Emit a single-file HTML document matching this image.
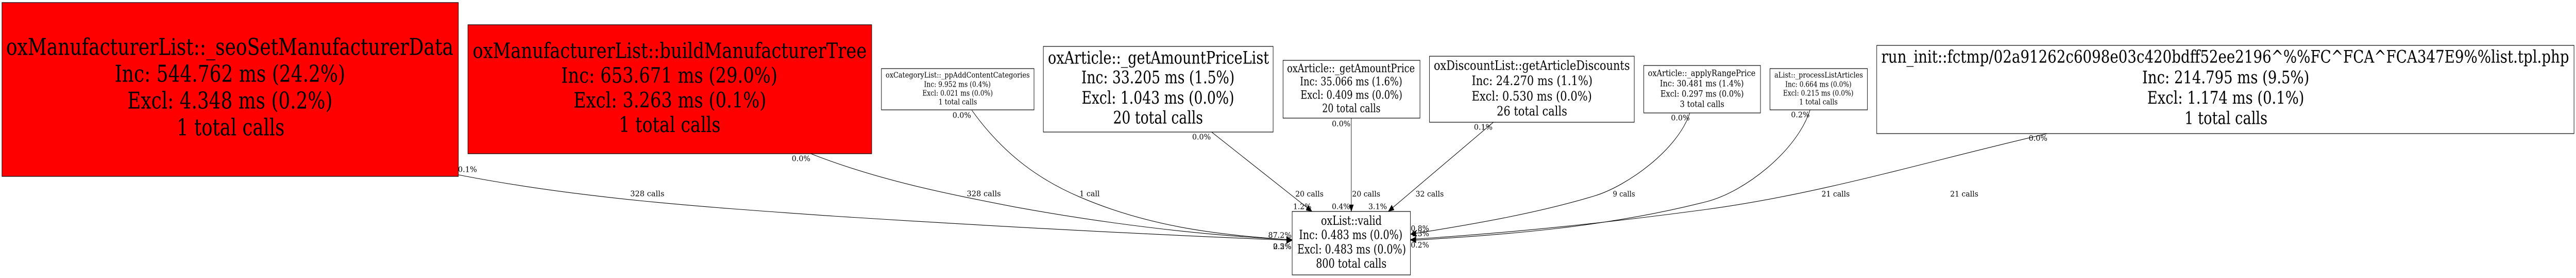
<!DOCTYPE html>
<html>
<head>
<meta charset="utf-8">
<style>
html,body{margin:0;padding:0;background:#fff;width:100%;height:100%;overflow:hidden;}
svg{display:block;width:100%;height:100%;}
text{font-family:"DejaVu Serif","Liberation Serif",serif;fill:#000;}
rect{stroke:#000;stroke-width:1.2;}
path.e{fill:none;stroke:#000;stroke-width:1.1;}
polygon{fill:#000;stroke:#000;stroke-width:.6;}
.l{font-size:15px;}
</style>
</head>
<body>
<svg viewBox="0 0 6491 539" preserveAspectRatio="none" xmlns="http://www.w3.org/2000/svg">
<rect width="6491" height="539" style="fill:#fff;stroke:none"/>

<!-- edges -->
<path class="e" d="M1155,339 C1470,386 1785,402 2100,419 C2485,438 2870,454 3256,466"/>
<path class="e" d="M2043,298 C2215,350 2388,376 2560,401.7 C2792,434 3024,456 3256,465"/>
<path class="e" d="M2449,214 C2535,306 2630,352 2720,381.7 C2899,441 3077,456 3256,465"/>
<path class="e" d="M3053,256 L3306,410"/>
<path class="e" d="M3405,229 L3405,410"/>
<path class="e" d="M3763,237 L3498,410"/>
<path class="e" d="M4258,219 C4228,290 4100,361 4017,380 C3880,412 3720,434 3554,454"/>
<path class="e" d="M4561,213 C4530,290 4400,371 4300,391 C4050,440 3800,455 3554,466"/>
<path class="e" d="M5159,259 C4870,310 4590,376 4300,406 C4050,432 3800,452 3554,464"/>

<!-- arrowheads -->
<polygon points="3256,466 3242,459 3242,472"/>
<polygon points="3256,465 3242,458.5 3242,471.5"/>
<polygon points="3306,410 3291.2,407.6 3296.8,398.2"/>
<polygon points="3405,410 3399.5,397 3410.5,397"/>
<polygon points="3498,410 3512.8,407 3506.8,397.8"/>
<polygon points="3554,454 3568,447 3568,459"/>
<polygon points="3554,465 3568,459 3568,471"/>

<!-- nodes -->
<rect x="5" y="5" width="1150" height="337" style="fill:#f00"/>
<text x="15.4" y="106.7" font-size="45" textLength="1127" lengthAdjust="spacingAndGlyphs">oxManufacturerList::_seoSetManufacturerData</text>
<text x="289" y="158.7" font-size="45" textLength="581" lengthAdjust="spacingAndGlyphs">Inc: 544.762 ms (24.2%)</text>
<text x="321" y="210.7" font-size="45" textLength="517" lengthAdjust="spacingAndGlyphs">Excl: 4.348 ms (0.2%)</text>
<text x="445.5" y="262.7" font-size="45" textLength="271.5" lengthAdjust="spacingAndGlyphs">1 total calls</text>

<rect x="1179" y="48" width="1017.5" height="250" style="fill:#f00"/>
<text x="1191" y="112.7" font-size="41" textLength="993" lengthAdjust="spacingAndGlyphs">oxManufacturerList::buildManufacturerTree</text>
<text x="1414" y="160.7" font-size="41" textLength="545" lengthAdjust="spacingAndGlyphs">Inc: 653.671 ms (29.0%)</text>
<text x="1445" y="208.7" font-size="41" textLength="486" lengthAdjust="spacingAndGlyphs">Excl: 3.263 ms (0.1%)</text>
<text x="1559.5" y="256" font-size="41" textLength="256" lengthAdjust="spacingAndGlyphs">1 total calls</text>

<rect x="2221" y="133" width="384.5" height="80" style="fill:#fff"/>
<text x="2231.6" y="150.7" font-size="14.9" textLength="363" lengthAdjust="spacingAndGlyphs">oxCategoryList::_ppAddContentCategories</text>
<text x="2328.4" y="168.3" font-size="14.9" textLength="168" lengthAdjust="spacingAndGlyphs">Inc: 9.952 ms (0.4%)</text>
<text x="2324.2" y="185.3" font-size="14.9" textLength="177.5" lengthAdjust="spacingAndGlyphs">Excl: 0.021 ms (0.0%)</text>
<text x="2364.9" y="202.7" font-size="14.9" textLength="97" lengthAdjust="spacingAndGlyphs">1 total calls</text>

<rect x="2629" y="90" width="579" height="166" style="fill:#fff"/>
<text x="2640.6" y="123.3" font-size="33.2" textLength="557" lengthAdjust="spacingAndGlyphs">oxArticle::_getAmountPriceList</text>
<text x="2724.8" y="161.7" font-size="33.2" textLength="386" lengthAdjust="spacingAndGlyphs">Inc: 33.205 ms (1.5%)</text>
<text x="2725.5" y="201" font-size="33.2" textLength="384.5" lengthAdjust="spacingAndGlyphs">Excl: 1.043 ms (0.0%)</text>
<text x="2804.7" y="239.3" font-size="33.2" textLength="226.6" lengthAdjust="spacingAndGlyphs">20 total calls</text>

<rect x="3233" y="117" width="345" height="112" style="fill:#fff"/>
<text x="3243" y="140" font-size="22" textLength="322" lengthAdjust="spacingAndGlyphs">oxArticle::_getAmountPrice</text>
<text x="3275.5" y="165.7" font-size="22" textLength="258" lengthAdjust="spacingAndGlyphs">Inc: 35.066 ms (1.6%)</text>
<text x="3277" y="191.7" font-size="22" textLength="256.6" lengthAdjust="spacingAndGlyphs">Excl: 0.409 ms (0.0%)</text>
<text x="3331.6" y="217.3" font-size="22" textLength="147" lengthAdjust="spacingAndGlyphs">20 total calls</text>

<rect x="3602" y="109" width="516" height="128" style="fill:#fff"/>
<text x="3612.9" y="135.3" font-size="25.5" textLength="494" lengthAdjust="spacingAndGlyphs">oxDiscountList::getArticleDiscounts</text>
<text x="3708.3" y="165" font-size="25.5" textLength="304.5" lengthAdjust="spacingAndGlyphs">Inc: 24.270 ms (1.1%)</text>
<text x="3708.3" y="195" font-size="25.5" textLength="303" lengthAdjust="spacingAndGlyphs">Excl: 0.530 ms (0.0%)</text>
<text x="3771.4" y="224" font-size="25.5" textLength="177.5" lengthAdjust="spacingAndGlyphs">26 total calls</text>

<rect x="4142" y="127" width="294" height="92" style="fill:#fff"/>
<text x="4152.4" y="147.7" font-size="17.2" textLength="271" lengthAdjust="spacingAndGlyphs">oxArticle::_applyRangePrice</text>
<text x="4182.5" y="167.7" font-size="17.2" textLength="211.5" lengthAdjust="spacingAndGlyphs">Inc: 30.481 ms (1.4%)</text>
<text x="4184" y="187.7" font-size="17.2" textLength="210" lengthAdjust="spacingAndGlyphs">Excl: 0.297 ms (0.0%)</text>
<text x="4233" y="207.7" font-size="17.2" textLength="112" lengthAdjust="spacingAndGlyphs">3 total calls</text>

<rect x="4460" y="133" width="245.5" height="80" style="fill:#fff"/>
<text x="4471.2" y="150.7" font-size="14.9" textLength="223" lengthAdjust="spacingAndGlyphs">aList::_processListArticles</text>
<text x="4498.5" y="168.3" font-size="14.9" textLength="167" lengthAdjust="spacingAndGlyphs">Inc: 0.664 ms (0.0%)</text>
<text x="4492.9" y="185.3" font-size="14.9" textLength="177.5" lengthAdjust="spacingAndGlyphs">Excl: 0.215 ms (0.0%)</text>
<text x="4533.6" y="202.7" font-size="14.9" textLength="97" lengthAdjust="spacingAndGlyphs">1 total calls</text>

<rect x="4729" y="88" width="1757" height="171" style="fill:#fff"/>
<text x="4740.6" y="121.7" font-size="34" textLength="1733" lengthAdjust="spacingAndGlyphs">run_init::fctmp/02a91262c6098e03c420bdff52ee2196^%%FC^FCA^FCA347E9%%list.tpl.php</text>
<text x="5398" y="161.7" font-size="34" textLength="421" lengthAdjust="spacingAndGlyphs">Inc: 214.795 ms (9.5%)</text>
<text x="5410.6" y="201" font-size="34" textLength="395.6" lengthAdjust="spacingAndGlyphs">Excl: 1.174 ms (0.1%)</text>
<text x="5504.6" y="240.7" font-size="34" textLength="209" lengthAdjust="spacingAndGlyphs">1 total calls</text>

<rect x="3256" y="410" width="298" height="123" style="fill:#fff"/>
<text x="3328.6" y="436" font-size="23.8" textLength="153" lengthAdjust="spacingAndGlyphs">oxList::valid</text>
<text x="3273.2" y="463.3" font-size="23.8" textLength="260.7" lengthAdjust="spacingAndGlyphs">Inc: 0.483 ms (0.0%)</text>
<text x="3268.8" y="491.7" font-size="23.8" textLength="274" lengthAdjust="spacingAndGlyphs">Excl: 0.483 ms (0.0%)</text>
<text x="3316" y="519" font-size="23.8" textLength="177.7" lengthAdjust="spacingAndGlyphs">800 total calls</text>

<!-- tail labels -->
<text class="l" x="1154" y="333.7" textLength="48" lengthAdjust="spacingAndGlyphs">0.1%</text>
<text class="l" x="1995" y="312.7" textLength="47" lengthAdjust="spacingAndGlyphs">0.0%</text>
<text class="l" x="2400" y="228.7" textLength="47" lengthAdjust="spacingAndGlyphs">0.0%</text>
<text class="l" x="3004" y="270.7" textLength="47" lengthAdjust="spacingAndGlyphs">0.0%</text>
<text class="l" x="3356" y="245" textLength="47" lengthAdjust="spacingAndGlyphs">0.0%</text>
<text class="l" x="3714" y="251.7" textLength="47" lengthAdjust="spacingAndGlyphs">0.1%</text>
<text class="l" x="4210.6" y="233.3" textLength="47" lengthAdjust="spacingAndGlyphs">0.0%</text>
<text class="l" x="4513" y="227.7" textLength="47" lengthAdjust="spacingAndGlyphs">0.2%</text>
<text class="l" x="5112" y="273" textLength="47" lengthAdjust="spacingAndGlyphs">0.0%</text>

<!-- call labels -->
<text class="l" x="1588" y="380.7" textLength="86" lengthAdjust="spacingAndGlyphs">328 calls</text>
<text class="l" x="2436" y="380.7" textLength="86" lengthAdjust="spacingAndGlyphs">328 calls</text>
<text class="l" x="2720" y="380.7" textLength="51" lengthAdjust="spacingAndGlyphs">1 call</text>
<text class="l" x="3264" y="381" textLength="71" lengthAdjust="spacingAndGlyphs">20 calls</text>
<text class="l" x="3407" y="381" textLength="71" lengthAdjust="spacingAndGlyphs">20 calls</text>
<text class="l" x="3567" y="381" textLength="71" lengthAdjust="spacingAndGlyphs">32 calls</text>
<text class="l" x="4064" y="381" textLength="56" lengthAdjust="spacingAndGlyphs">9 calls</text>
<text class="l" x="4590" y="381" textLength="71" lengthAdjust="spacingAndGlyphs">21 calls</text>
<text class="l" x="4914" y="381" textLength="71" lengthAdjust="spacingAndGlyphs">21 calls</text>

<!-- head labels -->
<text class="l" x="3258.5" y="405.7" textLength="46" lengthAdjust="spacingAndGlyphs">1.2%</text>
<text class="l" x="3356" y="405.7" textLength="46" lengthAdjust="spacingAndGlyphs">0.4%</text>
<text class="l" x="3448" y="405.7" textLength="47" lengthAdjust="spacingAndGlyphs">3.1%</text>
<text class="l" x="3195.5" y="461" textLength="59" lengthAdjust="spacingAndGlyphs">87.2%</text>
<text class="l" x="3208" y="483" textLength="46" lengthAdjust="spacingAndGlyphs">2.5%</text>
<text class="l" x="3208" y="483" textLength="46" lengthAdjust="spacingAndGlyphs">0.2%</text>
<text class="l" x="3555" y="448" textLength="46" lengthAdjust="spacingAndGlyphs">0.8%</text>
<text class="l" x="3555" y="458" textLength="46" lengthAdjust="spacingAndGlyphs">4.3%</text>
<text class="l" x="3555" y="480" textLength="46" lengthAdjust="spacingAndGlyphs">0.2%</text>
</svg>
</body>
</html>
